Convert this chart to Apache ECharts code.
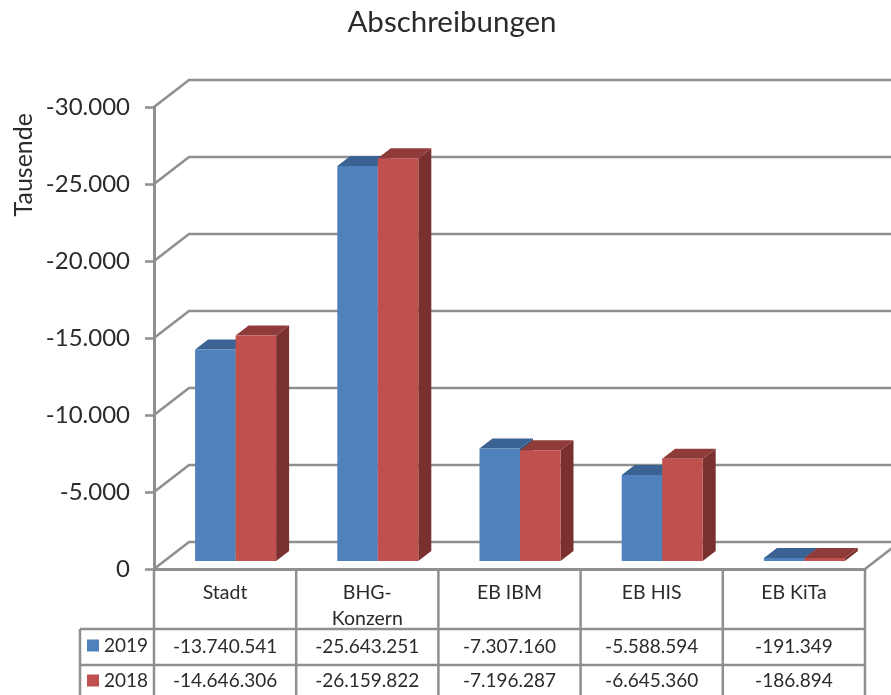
<!DOCTYPE html>
<html>
<head>
<meta charset="utf-8">
<style>html,body{margin:0;padding:0;background:#fff;overflow:hidden}#c{width:891px;height:695px}</style>
<script src="https://cdn.jsdelivr.net/npm/echarts@6/dist/echarts.min.js"></script>
</head>
<body>
<div id="c"></div>
<script>
const categories = ['Stadt', 'BHG-\nKonzern', 'EB IBM', 'EB HIS', 'EB KiTa'];
const values2019 = [-13740541, -25643251, -7307160, -5588594, -191349];
const values2018 = [-14646306, -26159822, -7196287, -6645360, -186894];
const yTicks = [0, -5000, -10000, -15000, -20000, -25000, -30000];

const FONT = 'Lato';
const TEXT = '#2b2b2b';
const LINE = '#8f8f8f';
const fmt = v => new Intl.NumberFormat('de-DE').format(v);

const chart = echarts.init(document.getElementById('c'), null, {renderer: 'canvas'});

function wallItem(params, api) {
  const v = api.value(0);
  const [x0, y] = [params.coordSys.x, api.coord([0, v])[1]];
  const right = api.getWidth();
  const children = [{
    type: 'polyline',
    shape: {points: [[x0, y], [x0 + 35, y - 27], [right, y - 27]]},
    style: {stroke: LINE, lineWidth: 2.5, fill: 'none'}
  }];
  if (v === 0) {
    const xr = params.coordSys.x + params.coordSys.width;
    children.push({
      type: 'line',
      shape: {x1: xr, y1: y, x2: xr + 35, y2: y - 27},
      style: {stroke: LINE, lineWidth: 2.5}
    });
  }
  return {type: 'group', children};
}

function barItem(slot, front, top, side) {
  return function (params, api) {
    const i = api.value(0);
    const val = api.value(1) / 1000;
    const w = 40.5, dx = 13, dy = 10;
    const c = api.coord([i, 0]);
    const t = api.coord([i, val]);
    const x1 = c[0] + 10.5 + (slot === 0 ? -w : 0);
    const x2 = x1 + w;
    const yb = c[1] - 8;
    const yt = t[1] - 8;
    return {
      type: 'group',
      children: [
        {type: 'polygon', shape: {points: [[x2, yb], [x2 + dx, yb - dy], [x2 + dx, yt - dy], [x2, yt]]}, style: {fill: side}},
        {type: 'polygon', shape: {points: [[x1, yt], [x2, yt], [x2 + dx, yt - dy], [x1 + dx, yt - dy]]}, style: {fill: top}},
        {type: 'rect', shape: {x: x1, y: yt, width: w, height: yb - yt}, style: {fill: front}}
      ]
    };
  };
}

function tableItem(params, api) {
  const i = api.value(0);
  const cs = params.coordSys;
  const c = api.coord([i, 0]);
  const band = api.size([1, 0])[0];
  const y0 = c[1];
  const bottom = api.getHeight();
  const xr = c[0] + band / 2;
  const lineStyle = {stroke: LINE, lineWidth: 2.5};
  const ch = [];
  const txt = (s, y) => ({
    type: 'text',
    style: {text: s, x: c[0], y: y, align: 'center', verticalAlign: 'middle',
      font: '19px ' + FONT, fill: TEXT}
  });
  ch.push({type: 'line', shape: {x1: xr, y1: y0, x2: xr, y2: bottom}, style: lineStyle});
  ch.push(txt(fmt(values2019[i]), y0 + 78));
  ch.push(txt(fmt(values2018[i]), y0 + 112));
  if (i === 0) {
    const xl = cs.x;
    [60, 96].forEach(d => ch.push({type: 'line', shape: {x1: 80, y1: y0 + d, x2: cs.x + cs.width, y2: y0 + d}, style: lineStyle}));
    ch.push({type: 'line', shape: {x1: xl, y1: y0, x2: xl, y2: bottom}, style: lineStyle});
    ch.push({type: 'line', shape: {x1: 80, y1: y0 + 60, x2: 80, y2: bottom}, style: lineStyle});
  }
  return {type: 'group', children: ch};
}

const idx = categories.map((_, i) => i);
const legendBase = {
  orient: 'horizontal', left: 82, itemWidth: 12, itemHeight: 12, itemGap: 5,
  selectedMode: false, icon: 'rect',
  textStyle: {fontFamily: FONT, fontSize: 19, color: TEXT}
};

chart.setOption({
  animation: false,
  backgroundColor: '#fff',
  title: {
    text: 'Abschreibungen', left: 447, top: 2, textAlign: 'center',
    textStyle: {fontFamily: FONT, fontSize: 29.5, fontWeight: 'normal', color: TEXT}
  },
  legend: [
    Object.assign({}, legendBase, {data: ['2019'], top: 631}),
    Object.assign({}, legendBase, {data: ['2018'], top: 666})
  ],
  grid: {left: 154, top: 107, width: 711, height: 462},
  xAxis: {
    type: 'category', data: categories, position: 'bottom',
    axisLine: {onZero: false, lineStyle: {color: LINE, width: 3}},
    axisTick: {show: false},
    axisLabel: {fontFamily: FONT, fontSize: 19.5, color: TEXT, margin: 11, lineHeight: 26, interval: 0, verticalAlign: 'top'}
  },
  yAxis: {
    type: 'value', inverse: true, min: -30000, max: 0, interval: 5000,
    splitLine: {show: false},
    axisLine: {show: true, lineStyle: {color: LINE, width: 3}},
    axisTick: {show: true, length: 9, lineStyle: {color: LINE, width: 2.5}},
    axisLabel: {fontFamily: FONT, fontSize: 24, color: TEXT, margin: 24, formatter: v => fmt(v)}
  },
  graphic: [{
    type: 'text', left: 11, top: 113,
    rotation: Math.PI / 2, originX: 0, originY: 0,
    style: {text: 'Tausende', font: '25px ' + FONT, fill: TEXT}
  }],
  series: [
    {type: 'custom', name: 'walls', silent: true, z: 1, encode: {y: 0},
     coordinateSystem: 'cartesian2d', data: yTicks.map(v => [v]),
     renderItem: wallItem},
    {type: 'custom', name: 'table', silent: true, z: 1, encode: {x: 0},
     data: idx.map(i => [i]), renderItem: tableItem},
    {type: 'custom', name: '2019', silent: true, z: 3, itemStyle: {color: '#4F81BD'},
     encode: {x: 0, y: 1}, data: idx.map(i => [i, values2019[i]]),
     renderItem: barItem(0, '#4F81BD', '#3A6394', '#2F5078')},
    {type: 'custom', name: '2018', silent: true, z: 4, itemStyle: {color: '#C0504D'},
     encode: {x: 0, y: 1}, data: idx.map(i => [i, values2018[i]]),
     renderItem: barItem(1, '#C0504D', '#8F3B39', '#7A302E')}
  ]
});
</script>
</body>
</html>
